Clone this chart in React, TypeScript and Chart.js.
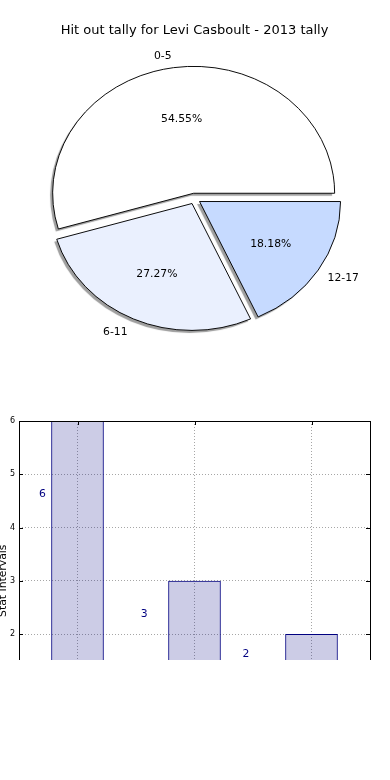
import React, { useEffect, useRef } from 'react';
import { Chart, registerables } from 'chart.js';

Chart.register(...registerables);

const FONT = "'DejaVu Sans', sans-serif";

// ---- Pie data ----
const pieTitle = 'Hit out tally for Levi Casboult - 2013 tally';
const pieLabels = ['0-5', '6-11', '12-17'];
const pieValues = [6, 3, 2];
const pieColors = ['#FFFFFF', '#EAF0FE', '#C6DAFF'];
const pieExplode = [6, 6, 6];

// ---- Bar data ----
const barCategories = ['0-5', '6-11', '12-17'];
const barValues = [6, 3, 2];
const barTextX = [-0.3, 0.57, 1.44];
const barTextY = [4.62, 2.38, 1.62];
const yTitle = 'Stat Intervals';
const yMin = 0;
const yMax = 6;

const SQUASH = 0.9;
const PIE_RADIUS = 141;
const TEXT_DY = 1.5;

// chart.js draws clockwise from 12 o'clock; reverse so order matches a counter-clockwise pie from 3 o'clock
const ordLabels = [...pieLabels].reverse();
const ordValues = [...pieValues].reverse();
const ordColors = [...pieColors].reverse();
const ordExplode = [...pieExplode].reverse();

const piePlugin = {
  id: 'pieStyle',
  afterUpdate(chart: any) {
    const meta = chart.getDatasetMeta(0);
    meta.data.forEach((arc: any, i: number) => {
      if (arc.__exploded) return;
      arc.__exploded = true;
      const orig = arc.draw;
      arc.draw = function (ctx: CanvasRenderingContext2D, area: any) {
        const d = ordExplode[i];
        const mid = (this.startAngle + this.endAngle) / 2;
        ctx.save();
        ctx.translate(Math.cos(mid) * d, Math.sin(mid) * d);
        orig.call(this, ctx, area);
        ctx.restore();
      };
    });
  },
  beforeDatasetsDraw(chart: any) {
    const ctx = chart.ctx;
    const arc0 = chart.getDatasetMeta(0).data[0];
    const cx = arc0.x;
    const cy = arc0.y;
    ctx.save();
    ctx.translate(cx, cy);
    ctx.scale(1, SQUASH);
    ctx.translate(-cx, -cy);
    ctx.shadowColor = 'rgba(0,0,0,0.38)';
    ctx.shadowOffsetX = -2.5;
    ctx.shadowOffsetY = 2.5;
    ctx.shadowBlur = 0.8;
    const protoStroke = CanvasRenderingContext2D.prototype.stroke;
    (ctx as any).stroke = function (...args: any[]) {
      const c = this.shadowColor;
      this.shadowColor = 'rgba(0,0,0,0)';
      protoStroke.apply(this, args as any);
      this.shadowColor = c;
    };
  },
  afterDatasetsDraw(chart: any) {
    const ctx = chart.ctx;
    delete (ctx as any).stroke;
    ctx.restore();
    const meta = chart.getDatasetMeta(0);
    const total = ordValues.reduce((a, b) => a + b, 0);
    ctx.save();
    ctx.fillStyle = '#000';
    ctx.font = `10.8px ${FONT}`;
    ctx.textBaseline = 'middle';
    meta.data.forEach((arc: any, i: number) => {
      const { x, y, startAngle, endAngle, outerRadius } = arc;
      const mid = (startAngle + endAngle) / 2;
      const d = ordExplode[i];
      const c = Math.cos(mid);
      const s = Math.sin(mid);
      const lr = d + 1.1 * outerRadius;
      ctx.textAlign = c > 0 ? 'left' : 'right';
      ctx.fillText(ordLabels[i], x + lr * c - (c > 0 ? 2.5 : 0), y + lr * s * SQUASH + TEXT_DY);
      const pr = d + 0.6 * outerRadius;
      ctx.textAlign = 'center';
      const pct = ((ordValues[i] / total) * 100).toFixed(2) + '%';
      ctx.fillText(pct, x + pr * c, y + pr * s * SQUASH + TEXT_DY);
    });
    ctx.restore();
  },
};

const barPlugin = {
  id: 'barStyle',
  afterDatasetsDraw(chart: any) {
    const { ctx, chartArea: a, scales } = chart;
    const xs = scales.x;
    const ys = scales.y;
    ctx.save();
    // frame
    ctx.strokeStyle = '#000';
    ctx.lineWidth = 1;
    ctx.strokeRect(Math.round(a.left) + 0.5, Math.round(a.top) + 0.5, Math.round(a.right - a.left), Math.round(a.bottom - a.top));
    // inward tick marks
    ctx.beginPath();
    ys.ticks.forEach((_t: any, i: number) => {
      const py = Math.round(ys.getPixelForTick(i)) + 0.5;
      ctx.moveTo(a.left, py);
      ctx.lineTo(a.left + 4, py);
      ctx.moveTo(a.right - 4, py);
      ctx.lineTo(a.right, py);
    });
    xs.ticks.forEach((_t: any, i: number) => {
      const px = Math.round(xs.getPixelForTick(i)) + 0.5;
      ctx.moveTo(px, a.top);
      ctx.lineTo(px, a.top + 4);
      ctx.moveTo(px, a.bottom);
      ctx.lineTo(px, a.bottom - 4);
    });
    ctx.stroke();
    // value labels
    ctx.fillStyle = '#000080';
    ctx.font = `10.8px ${FONT}`;
    ctx.textAlign = 'center';
    ctx.textBaseline = 'middle';
    barValues.forEach((v, i) => {
      ctx.fillText(String(v), xs.getPixelForValue(barTextX[i]), ys.getPixelForValue(barTextY[i]));
    });
    ctx.restore();
  },
};

export default function App() {
  const pieRef = useRef<HTMLCanvasElement>(null);
  const barRef = useRef<HTMLCanvasElement>(null);

  useEffect(() => {
    const pie = new Chart(pieRef.current as HTMLCanvasElement, {
      type: 'pie',
      data: {
        labels: ordLabels,
        datasets: [
          {
            data: ordValues,
            backgroundColor: ordColors,
            borderColor: '#000',
            borderWidth: 1,
            hoverOffset: 0,
            clip: false as any,
          } as any,
        ],
      },
      options: {
        responsive: false,
        animation: false,
        events: [],
        rotation: 90,
        radius: PIE_RADIUS,
        layout: { padding: { left: 0, right: 1, top: 0, bottom: 40.4 } },
        plugins: {
          legend: { display: false },
          tooltip: { enabled: false },
          title: {
            display: true,
            text: pieTitle,
            color: '#000',
            font: { family: FONT, size: 13, weight: 'normal' },
            padding: { top: 23, bottom: 9 },
          },
        },
      } as any,
      plugins: [piePlugin],
    });

    const bar = new Chart(barRef.current as HTMLCanvasElement, {
      type: 'bar',
      data: {
        labels: barCategories,
        datasets: [
          {
            data: barValues,
            backgroundColor: 'rgba(0,0,128,0.2)',
            borderColor: '#000080',
            borderWidth: 1,
            borderSkipped: false,
            barPercentage: 0.45,
            categoryPercentage: 1,
          },
        ],
      },
      options: {
        responsive: false,
        animation: false,
        events: [],
        layout: { padding: { left: 0, right: 20, top: 31, bottom: 49.5 } },
        plugins: { legend: { display: false }, tooltip: { enabled: false }, title: { display: false } },
        scales: {
          x: {
            offset: true,
            afterFit: (s: any) => {
              s.height = 0;
            },
            ticks: { display: false },
            grid: { offset: false, drawTicks: false, color: 'rgba(0,0,0,0.35)', lineWidth: 1, borderDash: [1, 2] },
            border: { display: false, dash: [1, 2] },
          },
          y: {
            min: yMin,
            max: yMax,
            afterFit: (s: any) => {
              s.width = 19;
            },
            ticks: { stepSize: 1, color: '#000', font: { family: FONT, size: 8 }, padding: 4 },
            grid: { drawTicks: false, color: 'rgba(0,0,0,0.35)', lineWidth: 1, borderDash: [1, 2] },
            border: { display: false, dash: [1, 2] },
            title: {
              display: true,
              text: yTitle,
              color: '#000',
              font: { family: FONT, size: 10.8, lineHeight: 0.6 },
              padding: 0,
            },
          },
        },
      } as any,
      plugins: [barPlugin],
    });

    return () => {
      pie.destroy();
      bar.destroy();
    };
  }, []);

  return (
    <div style={{ position: 'absolute', left: 0, top: 0, width: 390, height: 780, background: '#fff', overflow: 'hidden' }}>
      <canvas ref={pieRef} width={390} height={390} style={{ position: 'absolute', left: 0, top: 0, width: 390, height: 390 }} />
      <div style={{ position: 'absolute', left: 0, top: 390, width: 390, height: 270, overflow: 'hidden' }}>
        <canvas ref={barRef} width={390} height={400} style={{ position: 'absolute', left: 0, top: 0, width: 390, height: 400 }} />
      </div>
    </div>
  );
}
